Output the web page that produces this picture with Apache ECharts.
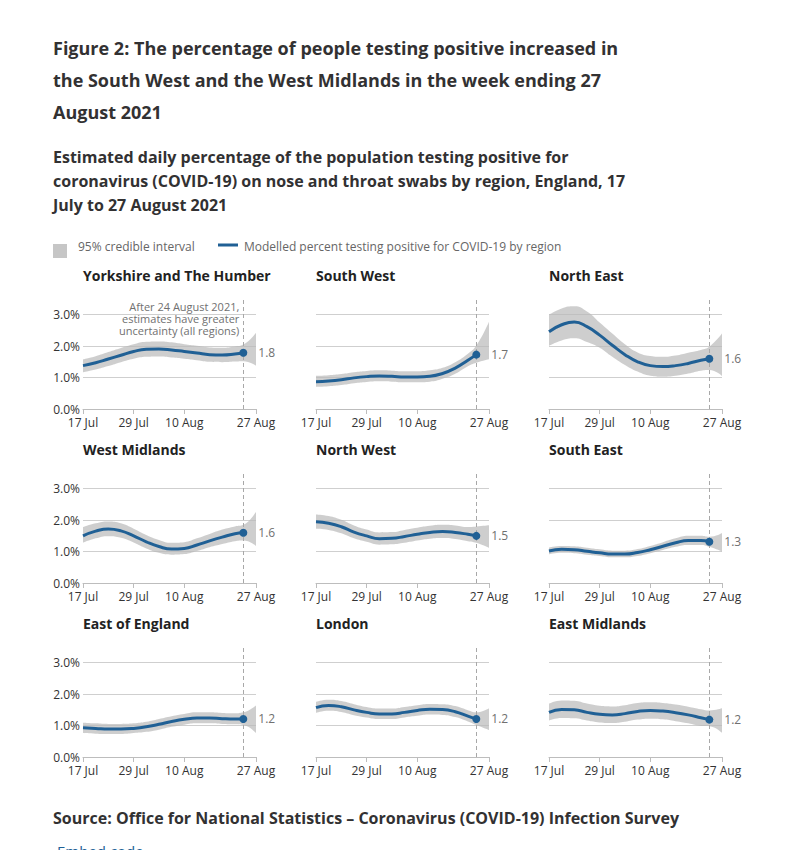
<!DOCTYPE html>
<html>
<head>
<meta charset="utf-8">
<script src="https://cdn.jsdelivr.net/npm/echarts@6/dist/echarts.min.js"></script>
<style>
html,body{margin:0;padding:0;background:#fff;}
#c{width:801px;height:850px;}
</style>
</head>
<body>
<div id="c"></div>
<script>
// ---------- DATA ----------
const regions = ['Yorkshire and The Humber','South West','North East','West Midlands','North West','South East','East of England','London','East Midlands'];
// sampled days: modelled line ends 24 Aug, credible interval continues to 27 Aug
const lineDays = ['17 Jul','20 Jul','23 Jul','26 Jul','29 Jul','1 Aug','4 Aug','7 Aug','10 Aug','13 Aug','16 Aug','19 Aug','22 Aug','24 Aug'];
const bandDays = ['17 Jul','20 Jul','23 Jul','26 Jul','29 Jul','1 Aug','4 Aug','7 Aug','10 Aug','13 Aug','16 Aug','19 Aug','22 Aug','24 Aug','27 Aug'];
const xTickLabels = ['17 Jul','29 Jul','10 Aug','27 Aug'];
const cutoffDay = '24 Aug';
const annotation = 'After 24 August 2021,\nestimates have greater\nuncertainty (all regions)';

const midYH = [1.38,1.47,1.59,1.71,1.83,1.90,1.91,1.88,1.83,1.78,1.73,1.72,1.75,1.79];
const loYH  = [1.17,1.26,1.37,1.49,1.60,1.66,1.67,1.64,1.60,1.55,1.50,1.49,1.51,1.52,1.38];
const hiYH  = [1.58,1.68,1.81,1.94,2.06,2.14,2.15,2.12,2.06,2.01,1.96,1.95,1.99,2.05,2.43];

const midSW = [0.87,0.89,0.93,0.99,1.03,1.05,1.04,1.02,1.02,1.04,1.13,1.30,1.55,1.73];
const loSW  = [0.70,0.72,0.76,0.82,0.86,0.88,0.87,0.85,0.85,0.87,0.96,1.12,1.36,1.47,1.58];
const hiSW  = [1.05,1.07,1.11,1.17,1.21,1.23,1.22,1.20,1.20,1.23,1.31,1.49,1.76,2.02,2.78];

const midNE = [2.46,2.68,2.77,2.62,2.35,2.03,1.73,1.50,1.38,1.35,1.38,1.45,1.55,1.60];
const loNE  = [2.01,2.18,2.25,2.13,1.95,1.66,1.40,1.19,1.06,1.03,1.06,1.13,1.22,1.24,1.05];
const hiNE  = [3.00,3.20,3.27,3.10,2.75,2.40,2.06,1.80,1.69,1.66,1.70,1.79,1.88,1.98,2.40];

const midWM = [1.50,1.65,1.72,1.66,1.50,1.31,1.16,1.08,1.10,1.21,1.34,1.46,1.57,1.60];
const loWM  = [1.28,1.42,1.49,1.44,1.29,1.10,0.96,0.90,0.92,1.02,1.14,1.24,1.33,1.35,1.18];
const hiWM  = [1.78,1.90,1.96,1.90,1.73,1.53,1.37,1.28,1.30,1.42,1.56,1.70,1.80,1.85,2.27];

const midNW = [1.95,1.90,1.79,1.62,1.50,1.41,1.42,1.48,1.55,1.61,1.64,1.61,1.55,1.50];
const loNW  = [1.73,1.69,1.58,1.42,1.31,1.22,1.23,1.28,1.35,1.41,1.43,1.40,1.33,1.28,1.12];
const hiNW  = [2.18,2.13,2.01,1.83,1.70,1.61,1.62,1.69,1.76,1.82,1.85,1.83,1.78,1.80,1.84];

const midSE = [1.02,1.07,1.06,1.01,0.96,0.92,0.92,0.97,1.06,1.17,1.28,1.35,1.35,1.31];
const loSE  = [0.91,0.96,0.95,0.90,0.86,0.82,0.82,0.86,0.95,1.05,1.15,1.21,1.21,1.15,1.00];
const hiSE  = [1.13,1.18,1.17,1.12,1.07,1.03,1.03,1.08,1.18,1.30,1.42,1.50,1.50,1.47,1.59];

const midEE = [0.93,0.91,0.89,0.89,0.91,0.96,1.04,1.13,1.20,1.24,1.24,1.22,1.21,1.21];
const loEE  = [0.76,0.74,0.73,0.73,0.76,0.80,0.87,0.96,1.03,1.07,1.07,1.05,1.04,1.02,0.76];
const hiEE  = [1.09,1.07,1.05,1.05,1.07,1.12,1.21,1.30,1.37,1.42,1.42,1.40,1.39,1.42,1.64];

const midLN = [1.57,1.64,1.60,1.50,1.42,1.37,1.37,1.42,1.48,1.52,1.51,1.44,1.30,1.21];
const loLN  = [1.40,1.47,1.43,1.33,1.26,1.21,1.21,1.26,1.31,1.35,1.34,1.27,1.13,1.02,0.86];
const hiLN  = [1.75,1.82,1.78,1.68,1.59,1.54,1.54,1.59,1.65,1.69,1.68,1.62,1.49,1.42,1.55];

const midEM = [1.42,1.51,1.50,1.42,1.36,1.34,1.38,1.45,1.48,1.46,1.41,1.34,1.25,1.19];
const loEM  = [1.16,1.24,1.23,1.16,1.10,1.08,1.12,1.19,1.22,1.20,1.14,1.07,0.99,0.98,0.77];
const hiEM  = [1.70,1.80,1.79,1.70,1.63,1.61,1.65,1.72,1.74,1.72,1.67,1.60,1.52,1.48,1.55];

const mids = [midYH, midSW, midNE, midWM, midNW, midSE, midEE, midLN, midEM];
const los  = [loYH, loSW, loNE, loWM, loNW, loSE, loEE, loLN, loEM];
const his  = [hiYH, hiSW, hiNE, hiWM, hiNW, hiSE, hiEE, hiLN, hiEM];

// all days on the axis, 17 Jul .. 27 Aug
const axisDays = [];
for (let i = 0; i <= 41; i++) {
  const d = new Date(2021, 6, 17 + i);
  axisDays.push(d.getDate() + ' ' + (d.getMonth() === 6 ? 'Jul' : 'Aug'));
}

// ---------- CHART ----------
const FONT = 'Open Sans';
const BLUE = '#206095';
const chart = echarts.init(document.getElementById('c'), null, {renderer: 'svg'});

const colLeft = [83, 316, 549];
const rowTop = [299, 473, 647];
const rowTitle = [275, 449, 623];

const grids = [], xAxes = [], yAxes = [], series = [];
const titles = [
  {text: 'Figure 2: The percentage of people testing positive increased in\nthe South West and the West Midlands in the week ending 27\nAugust 2021',
   left: 53, top: 32, padding: 0,
   textStyle: {fontFamily: FONT, fontSize: 18, fontWeight: 'bold', lineHeight: 32, color: '#323132'}},
  {text: 'Estimated daily percentage of the population testing positive for\ncoronavirus (COVID-19) on nose and throat swabs by region, England, 17\nJuly to 27 August 2021',
   left: 53, top: 145, padding: 0,
   textStyle: {fontFamily: FONT, fontSize: 16, fontWeight: 'bold', lineHeight: 24, color: '#323132'}},
  {text: 'Source: Office for National Statistics \u2013 Coronavirus (COVID-19) Infection Survey',
   left: 53, top: 808, padding: 0,
   textStyle: {fontFamily: FONT, fontSize: 16, fontWeight: 'bold', lineHeight: 20, color: '#323132'}},
  {text: 'Embed code', left: 57, top: 841, padding: 0,
   textStyle: {fontFamily: FONT, fontSize: 15, fontWeight: 'normal', lineHeight: 20, color: BLUE}}
];
const tickShown = (idx) => xTickLabels.indexOf(axisDays[idx]) >= 0;

regions.forEach((name, i) => {
  const col = i % 3, row = Math.floor(i / 3);
  titles.push({text: name, left: colLeft[col], top: rowTitle[row] - 9, padding: 0,
    textStyle: {fontFamily: FONT, fontSize: 14, fontWeight: 'bold', lineHeight: 18, color: '#222'}});
  grids.push({left: colLeft[col], top: rowTop[row], width: 173, height: 110});
  xAxes.push({
    gridIndex: i, type: 'category', data: axisDays, boundaryGap: false,
    axisLine: {lineStyle: {color: '#bdbdbd', width: 1}},
    axisTick: {show: true, interval: tickShown, length: 5, lineStyle: {color: '#bdbdbd'}},
    axisLabel: {interval: tickShown, color: '#333', fontFamily: FONT, fontSize: 12, margin: 7},
    splitLine: {show: false}
  });
  yAxes.push({
    gridIndex: i, type: 'value', min: 0, max: 3.5, interval: 1,
    axisLine: {show: false}, axisTick: {show: false},
    axisLabel: {show: col === 0, showMaxLabel: false, formatter: v => v.toFixed(1) + '%',
      color: '#333', fontFamily: FONT, fontSize: 12, margin: 3},
    splitLine: {show: true, showMaxLine: false, showMinLine: false, lineStyle: {color: '#cfcfcf', width: 1}}
  });
  const lo = los[i], hi = his[i], mid = mids[i];
  series.push({
    type: 'line', xAxisIndex: i, yAxisIndex: i, stack: 'band' + i, smooth: 0.5,
    symbol: 'none', silent: true, lineStyle: {opacity: 0}, z: 1,
    data: bandDays.map((d, k) => [d, lo[k]]),
    markLine: {
      silent: true, symbol: 'none', animation: false, z: 2,
      lineStyle: {color: '#a8a8a8', type: [4, 3], width: 1},
      label: {show: false},
      data: [{xAxis: cutoffDay}]
    }
  });
  series.push({
    type: 'line', xAxisIndex: i, yAxisIndex: i, stack: 'band' + i, smooth: 0.5,
    name: '95% credible interval',
    symbol: 'none', silent: true, lineStyle: {opacity: 0}, z: 1,
    areaStyle: {color: 'rgba(185,185,185,0.7)', opacity: 1},
    data: bandDays.map((d, k) => [d, +(hi[k] - lo[k]).toFixed(3)])
  });
  const last = lineDays.length - 1;
  const lineData = lineDays.map((d, k) => {
    if (k !== last) return [d, mid[k]];
    return {
      value: [d, mid[k]],
      label: {show: true, position: 'right', distance: 11, formatter: p => p.value[1].toFixed(1),
        color: '#707070', fontFamily: FONT, fontSize: 12}
    };
  });
  const lineSeries = {
    type: 'line', xAxisIndex: i, yAxisIndex: i, smooth: 0.5,
    name: 'Modelled percent testing positive for COVID-19 by region',
    symbol: 'circle', showSymbol: true, showAllSymbol: true,
    symbolSize: (v, p) => (p.dataIndex === last ? 8 : 0),
    z: 3,
    lineStyle: {color: BLUE, width: 3}, itemStyle: {color: BLUE, borderWidth: 0},
    data: lineData
  };
  if (i === 0) {
    lineSeries.markPoint = {
      silent: true, symbol: 'circle', symbolSize: 0, animation: false,
      data: [{coord: [cutoffDay, 2.89]}],
      label: {show: true, position: 'left', distance: 4, align: 'right', formatter: annotation,
        color: '#707070', fontFamily: FONT, fontSize: 11, lineHeight: 12}
    };
  }
  series.push(lineSeries);
});

const option = {
  animation: false,
  backgroundColor: '#fff',
  textStyle: {fontFamily: FONT},
  title: titles,
  grid: grids,
  xAxis: xAxes,
  yAxis: yAxes,
  series: series,
  graphic: [
    {type: 'rect', left: 53, top: 244, shape: {width: 14, height: 14}, style: {fill: '#c6c6c6'}},
    {type: 'text', left: 78, top: 240, style: {text: '95% credible interval', fill: '#666', font: '12px "Open Sans"'}},
    {type: 'line', shape: {x1: 218, y1: 245, x2: 238, y2: 245}, style: {stroke: BLUE, lineWidth: 3}},
    {type: 'text', left: 244, top: 240, style: {text: 'Modelled percent testing positive for COVID-19 by region', fill: '#666', font: '12px "Open Sans"'}}
  ]
};
chart.setOption(option);
</script>
</body>
</html>
